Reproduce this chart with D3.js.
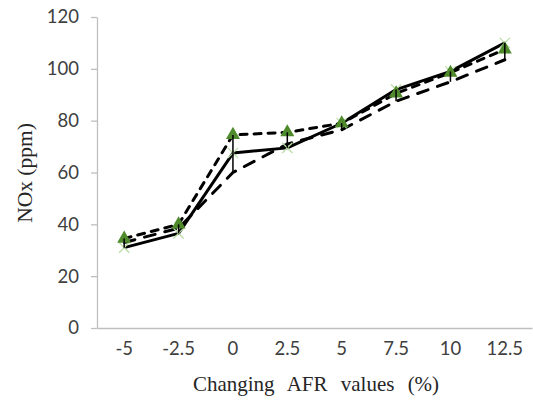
<!DOCTYPE html>
<html>
<head>
<meta charset="utf-8">
<script src="https://cdn.jsdelivr.net/npm/d3@7"></script>
<style>
  body { margin: 0; background: #fff; }
</style>
</head>
<body>
<div id="chart"></div>
<script>
const categories = ['-5', '-2.5', '0', '2.5', '5', '7.5', '10', '12.5'];
const yTicks = [0, 20, 40, 60, 80, 100, 120];

// three NOx series (ppm)
const solidValues = [31, 36.5, 67.5, 69.5, 79, 92, 99, 110];
const shortDashValues = [34.5, 40, 74.5, 75.5, 79, 90.5, 98.5, 107.5];
const longDashValues = [33, 38.5, 60, 71, 76.5, 87.5, 95, 103.5];

const width = 533;
const height = 407;

const svg = d3.select('#chart')
  .append('svg')
  .attr('width', width)
  .attr('height', height);

// Scales
const x = d3.scaleBand()
  .domain(categories)
  .range([97, 532]);

const y = d3.scaleLinear()
  .domain([0, 120])
  .range([328, 17]);

const cx = d => x(d) + x.bandwidth() / 2;

// Y axis
const yAxis = svg.append('g')
  .attr('transform', 'translate(97,0)')
  .call(d3.axisLeft(y).tickValues(yTicks).tickSize(6).tickSizeOuter(0).tickPadding(12));

yAxis.select('.domain').attr('stroke', '#bfbfbf').attr('stroke-width', 1.3);
yAxis.selectAll('line').attr('stroke', '#bfbfbf').attr('stroke-width', 1.3);
yAxis.selectAll('text')
  .style('font-family', 'Lato, "Open Sans", sans-serif')
  .style('font-size', '18.5px')
  .style('fill', '#404040');

// X axis
const xAxis = svg.append('g')
  .attr('transform', `translate(0,${y(0)})`)
  .call(d3.axisBottom(x).tickSize(0).tickSizeOuter(0).tickPadding(14));

xAxis.select('.domain').attr('stroke', '#bfbfbf').attr('stroke-width', 1.3);
xAxis.selectAll('text')
  .style('font-family', 'Lato, "Open Sans", sans-serif')
  .style('font-size', '18.5px')
  .style('fill', '#404040');

// Axis titles
svg.append('text')
  .attr('x', 316)
  .attr('y', 391)
  .style('text-anchor', 'middle')
  .style('font-family', '"Liberation Serif", "Times New Roman", serif')
  .style('font-size', '21px')
  .style('word-spacing', '8px')
  .style('fill', '#262626')
  .text('Changing AFR values (%)');

svg.append('text')
  .attr('transform', 'translate(32,173) rotate(-90)')
  .style('text-anchor', 'middle')
  .style('font-family', '"Liberation Serif", "Times New Roman", serif')
  .style('font-size', '21.5px')
  .style('fill', '#262626')
  .text('NOx (ppm)');

// Lines
const line = vals => d3.line()
  .x((d, i) => cx(categories[i]))
  .y(d => y(d))(vals);

svg.append('path')
  .attr('d', line(longDashValues))
  .attr('fill', 'none')
  .attr('stroke', '#000')
  .attr('stroke-width', 3)
  .attr('stroke-linecap', 'round')
  .attr('stroke-dasharray', '11,10');

svg.append('path')
  .attr('d', line(shortDashValues))
  .attr('fill', 'none')
  .attr('stroke', '#000')
  .attr('stroke-width', 3)
  .attr('stroke-linecap', 'round')
  .attr('stroke-dasharray', '7,7');

svg.append('path')
  .attr('d', line(solidValues))
  .attr('fill', 'none')
  .attr('stroke', '#000')
  .attr('stroke-width', 3)
  .attr('stroke-linejoin', 'round');

// x markers on the solid series
svg.selectAll('.xmark')
  .data(solidValues)
  .enter().append('path')
  .attr('class', 'xmark')
  .attr('transform', (d, i) => `translate(${cx(categories[i])},${y(d)})`)
  .attr('d', d3.symbol(d3.symbolTimes, 70))
  .attr('fill', 'none')
  .attr('stroke', '#b9dca4')
  .attr('stroke-width', 1.2);

// triangle markers
svg.selectAll('.tri')
  .data(shortDashValues)
  .enter().append('path')
  .attr('class', 'tri')
  .attr('transform', (d, i) => `translate(${cx(categories[i])},${y(d)})`)
  .attr('d', d3.symbol(d3.symbolTriangle, 85))
  .attr('fill', '#4f8a2c');

// high-low lines
const hiLo = categories.map((c, i) => {
  const vals = [solidValues[i], shortDashValues[i], longDashValues[i]];
  return { c, hi: d3.max(vals), lo: d3.min(vals) };
});

svg.selectAll('.hilo')
  .data(hiLo)
  .enter().append('line')
  .attr('class', 'hilo')
  .attr('x1', d => cx(d.c))
  .attr('x2', d => cx(d.c))
  .attr('y1', d => y(d.hi))
  .attr('y2', d => y(d.lo))
  .attr('stroke', '#000')
  .attr('stroke-width', 1.5);
</script>
</body>
</html>
